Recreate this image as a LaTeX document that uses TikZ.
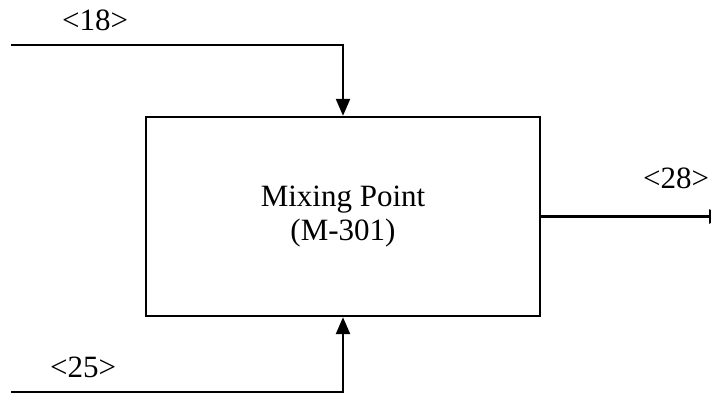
\documentclass[tikz,border=0pt]{standalone}
\usepackage{fontspec}
\setmainfont{Liberation Serif}
\usetikzlibrary{arrows.meta}
\begin{document}
\begin{tikzpicture}[x=0.5pt,y=-0.5pt,
  flow/.style={line width=1.2pt,-{Triangle[length=8.5pt,width=7pt]}},
  unitbox/.style={draw,line width=1.2pt,minimum width=197pt,minimum height=99.5pt,inner sep=0pt,align=center,font=\fontsize{15.5}{17}\selectfont},
  streamlabel/.style={anchor=base,inner sep=0pt,font=\fontsize{15.5}{15.5}\selectfont}]
\useasboundingbox (0,0) rectangle (711,394);
\clip (0,0) rectangle (711,394);
\node[unitbox] (mix) at (343,216.5) {Mixing Point\\(M-301)};
\coordinate (in18) at (11,45);
\coordinate (in25) at (11,392);
\coordinate (out28) at (726,216.5);
\draw[flow] (in18) -| (mix.north);
\draw[flow] (in25) -| (mix.south);
\draw[flow] (mix.east) -- (out28);
\node[streamlabel] (l18) at (95,31) {<18>};
\node[streamlabel] (l25) at (83,378) {<25>};
\node[streamlabel] (l28) at (676,189) {<28>};
\end{tikzpicture}
\end{document}
